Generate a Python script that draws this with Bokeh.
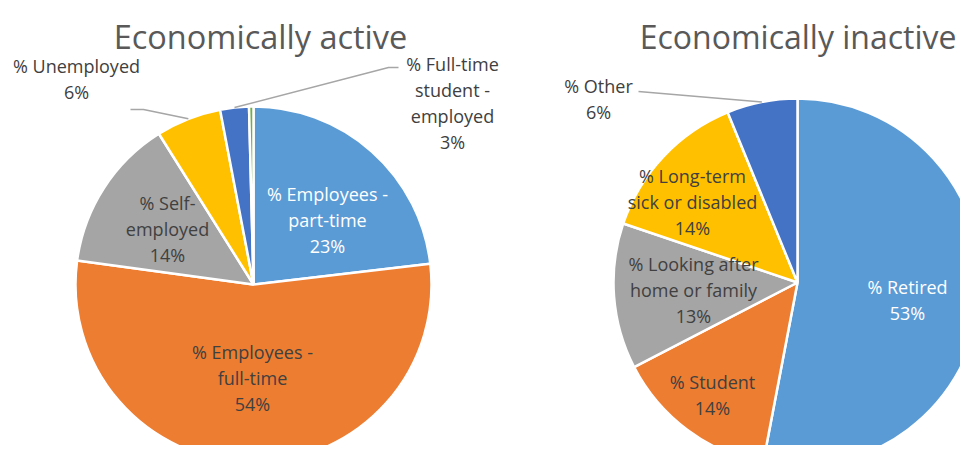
import numpy as np
from bokeh.plotting import figure
from bokeh.models import Range1d, ColumnDataSource
from bokeh.core.properties import value
from bokeh.embed import file_html
from bokeh.resources import INLINE

# ---------------- data ----------------
active_title = "Economically active"
active_categories = ["% Employees - part-time", "% Employees - full-time", "% Self-employed",
                     "% Unemployed", "% Full-time student - employed", "% Full-time student - unemployed"]
active_label_lines = [["% Employees -", "part-time"], ["% Employees -", "full-time"], ["% Self-", "employed"],
                      ["% Unemployed"], ["% Full-time", "student -", "employed"], []]
active_values = [23.1, 53.9, 13.9, 5.9, 2.6, 0.4]

inactive_title = "Economically inactive"
inactive_categories = ["% Retired", "% Student", "% Looking after home or family",
                       "% Long-term sick or disabled", "% Other"]
inactive_label_lines = [["% Retired"], ["% Student"], ["% Looking after", "home or family"],
                        ["% Long-term", "sick or disabled"], ["% Other"]]
inactive_values = [53.0, 14.4, 12.8, 13.6, 6.2]

# ---------------- style ----------------
COLORS = ["#5B9BD5", "#ED7D31", "#A5A5A5", "#FFC000", "#4472C4", "#70AD47"]
DARK = "#404040"
FONT = value("Open Sans")
LINE_H = 26

W, H = 960, 445
p = figure(width=W, height=H, output_backend="svg", toolbar_location=None,
           x_range=Range1d(0, W), y_range=Range1d(-H, 0),
           min_border=0, match_aspect=False)
p.axis.visible = False
p.grid.visible = False
p.outline_line_color = None
p.background_fill_color = "white"
p.border_fill_color = "white"


def S(y):  # screen y -> data y
    return -y


def draw_pie(cx, cy, r, values, label_lines, text_colors, label_offsets, leaders):
    v = np.array(values, float)
    frac = v / v.sum()
    cum = np.concatenate([[0.0], np.cumsum(frac)])
    start = np.pi / 2 - cum[:-1] * 2 * np.pi
    end = np.pi / 2 - cum[1:] * 2 * np.pi
    src = ColumnDataSource(dict(start=start, end=end, color=COLORS[:len(v)]))
    p.wedge(x=cx, y=S(cy), radius=r, start_angle="start", end_angle="end",
            direction="clock", fill_color="color", line_color="white", line_width=2.5,
            source=src)
    mids = (cum[:-1] + cum[1:]) / 2 * 2 * np.pi
    xs, ys, ts, cs = [], [], [], []
    for i, lines in enumerate(label_lines):
        if not lines:
            continue
        full = lines + [f"{round(v[i] / v.sum() * 100):.0f}%"]
        ox, oy = label_offsets[i]
        n = len(full)
        for j, t in enumerate(full):
            xs.append(cx + ox)
            ys.append(S(cy + oy + (j - (n - 1) / 2) * LINE_H))
            ts.append(t)
            cs.append(text_colors[i])
        if leaders.get(i):
            pts = leaders[i]
            lx = [pt[0] for pt in pts] + [cx + r * np.sin(mids[i])]
            ly = [S(pt[1]) for pt in pts] + [S(cy) + r * np.cos(mids[i])]
            p.line(lx, ly, line_color="#A6A6A6", line_width=1.5)
    p.text(x=xs, y=ys, text=ts, text_color=cs, text_font=FONT, text_font_size="18px",
           text_align="center", text_baseline="middle")


# left pie
draw_pie(253, 284, 178, active_values, active_label_lines,
         ["white", DARK, DARK, DARK, DARK, DARK],
         [(74, -65), (-1, 93), (-86, -56), (-177, -206), (199, -182), (0, 0)],
         {3: [(130, 109), (143, 109)], 4: [(398, 67), (388, 67)]})

# right pie
draw_pie(797, 282, 184, inactive_values, inactive_label_lines,
         ["white", DARK, DARK, DARK, DARK],
         [(110, 17), (-85, 112), (-104, 7), (-105, -81), (-199, -184)],
         {4: [(638, 91)]})

p.text(x=[260], y=[S(36)], text=[active_title],
       text_color="#595959", text_font=FONT, text_font_size="32.5px",
       text_align="center", text_baseline="alphabetic")
p.text(x=[956], y=[S(36)], text=[inactive_title],
       text_color="#595959", text_font=FONT, text_font_size="32px",
       text_align="right", text_baseline="alphabetic")

open("out.html", "w").write(file_html(p, INLINE))
